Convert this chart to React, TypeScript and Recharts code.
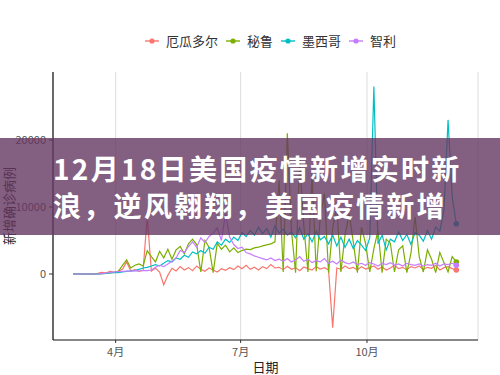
import React from 'react'
import { LineChart, Line, XAxis, YAxis, CartesianGrid } from 'recharts'

// daily new cases, sampled every 3 days starting 2020-03-01
const stepDays = 3

const ecuador = [
  0, 0, 0, 0, 10, 30, 90, 250, 180, 380, 260, 450, 700, 1800, 450, 650, 380, 560, 8600, 420,
  900, 300, -1600, -200, 850, 450, 1100, 600, 950, 500, 1200, 700, 400, 900, 600, 300, 800, 550, 950, 650,
  1200, 800, 1300, 700, 1000, 600, 1100, 800, 1400, 900, 1000, 650, 1150, 700, 950, 500, 1050, 800, 600, 1100,
  750, 950, 600, -8000, 900, 700, 1200, 800, 1000, 600, 1100, 750, 950, 1200, 700, 1050, 600, 900, 1300, 800,
  1000, 650, 1100, 900, 1200, 700, 1000, 850, 1300, 600, 950, 1100, 800, 600,
]

const peru = [
  0, 0, 0, 0, 0, 0, 30, 60, 90, 150, 250, 400, 1300, 2100, 900, 1300, 1500, 1200, 3500, 2600,
  1800, 3400, 2400, 3700, 2200, 3600, 4100, 3000, 4500, 5200, 4400, 300, 5000, 4000, 200, 4600, 3700, 4300, 3300, 3900,
  3200, 3500, 3700, 3650, 3900, 4000, 4200, 4350, 4500, 4800, 14000, 300, 21000, 6500, 200, 17000, 7200, 300, 15000, 400,
  8500, 12000, 200, 6800, 10000, 300, 5800, 9000, 4800, 200, 7000, 4500, 300, 3800, 6500, 200, 5200, 4600, 300, 3600,
  4200, 200, 3100, 8500, 2600, 300, 3600, 2200, 200, 3200, 1700, 300, 2600, 1800,
]

const mexico = [
  0, 0, 0, 0, 0, 0, 0, 50, 80, 150, 250, 200, 300, 400, 450, 500, 700, 900, 1000, 1200,
  1400, 1200, 1600, 2000, 1800, 2400, 2200, 2800, 2500, 3300, 3000, 3500, 3100, 4000, 3700, 4800, 4300, 5200, 4700, 5500,
  5000, 6200, 5600, 6500, 5800, 7000, 6000, 6800, 5500, 7200, 6100, 6700, 5800, 6300, 5400, 6900, 5200, 6000, 4800, 6400,
  5100, 5600, 4500, 5800, 4200, 5500, 4000, 5200, 3800, 5000, 4300, 3500, 5400, 28000, 4500, 5800, 3600, 5200, 4800, 6300,
  5000, 5900, 4400, 6200, 5800, 4900, 6500, 5200, 7000, 6400, 9500, 23000, 11500, 7500,
]

const chile = [
  0, 0, 0, 0, 0, 0, 0, 60, 150, 250, 300, 350, 400, 450, 430, 500, 450, 520, 500, 600,
  1000, 1300, 1100, 1500, 1900, 2400, 3500, 3200, 4100, 4800, 4000, 5400, 4700, 5600, 6100, 6900, 5000, 9000, 5500, 4400,
  3800, 4000, 3200, 3000, 2700, 2500, 2300, 2100, 2400, 2000, 2200, 1900, 2300, 1800, 2100, 2600, 1900, 2200, 1700, 2000,
  1800, 2300, 1600, 1900, 1500, 2100, 1700, 1500, 1800, 1400, 1600, 1300, 1700, 1500, 1200, 1600, 1400, 1700, 1300, 1500,
  1200, 1600, 1400, 1300, 1500, 1200, 1400, 1300, 1600, 1200, 1500, 1400, 1600, 1300,
]

const countries = ['厄瓜多尔', '秘鲁', '墨西哥', '智利']
const colors = ['#F8766D', '#7CAE00', '#00BFC4', '#C77CFF']
const seriesKeys = ['ecuador', 'peru', 'mexico', 'chile']

// day offsets from 2020-03-01
const monthTicks = [31, 122, 214]
const monthLabels = ['4月', '7月', '10月']
const yTicks = [0, 10000, 20000]

const titleLines = ['12月18日美国疫情新增实时新', '浪，逆风翱翔，美国疫情新增']

const chartData = ecuador.map((_, i) => ({
  day: i * stepDays,
  ecuador: ecuador[i],
  peru: peru[i],
  mexico: mexico[i],
  chile: chile[i],
}))

const lastIndex = chartData.length - 1
const font = '"Noto Sans CJK SC", "Noto Sans", sans-serif'

const LegendIcon = ({ color }: { color: string }) => (
  <svg width={14} height={10} style={{ marginRight: 7 }}>
    <line x1={0} y1={5} x2={14} y2={5} stroke={color} strokeWidth={1.4} />
    <circle cx={7} cy={5} r={2.6} fill={color} />
  </svg>
)

const App: React.FC = () => {
  return (
    <div
      style={{
        position: 'absolute',
        left: 0,
        top: 0,
        width: 500,
        height: 375,
        background: '#fff',
        fontFamily: font,
        overflow: 'hidden',
      }}
    >
      <LineChart
        width={500}
        height={375}
        data={chartData}
        margin={{ top: 72, right: 22, bottom: 0, left: 0 }}
      >
        <CartesianGrid horizontal={false} stroke="#dcdcdc" strokeWidth={1} />
        <XAxis
          dataKey="day"
          type="number"
          domain={[-14.6, 294.8]}
          ticks={monthTicks}
          tickFormatter={(v: number) => monthLabels[monthTicks.indexOf(v)]}
          height={35}
          tickSize={3}
          tickMargin={5}
          axisLine={{ stroke: '#111', strokeWidth: 1.2 }}
          tickLine={{ stroke: '#333' }}
          tick={{ fontSize: 11, fill: '#555', fontFamily: font }}
          label={{ value: '日期', position: 'insideBottom', offset: 3, fontSize: 13, fill: '#222', fontFamily: font }}
        />
        <YAxis
          type="number"
          domain={[-9850, 30150]}
          ticks={yTicks}
          width={53}
          tickSize={4}
          tickMargin={3}
          axisLine={{ stroke: '#111', strokeWidth: 1.2 }}
          tickLine={{ stroke: '#333' }}
          tick={{ fontSize: 11, fill: '#555', fontFamily: font }}
          label={{
            value: '新增确诊病例',
            angle: -90,
            position: 'insideLeft',
            offset: 9,
            style: { textAnchor: 'middle', fontSize: 13, fill: '#222', fontFamily: font },
          }}
        />
        {seriesKeys.map((key, s) => (
          <Line
            key={key}
            dataKey={key}
            name={countries[s]}
            type="linear"
            stroke={colors[s]}
            strokeWidth={1.2}
            isAnimationActive={false}
            activeDot={false}
            dot={(props: any) =>
              props.index === lastIndex ? (
                <circle key={`${key}-end`} cx={props.cx} cy={props.cy} r={2.8} fill={colors[s]} />
              ) : (
                <g key={`${key}-${props.index}`} />
              )
            }
          />
        ))}
      </LineChart>

      <div
        style={{
          position: 'absolute',
          top: 31,
          left: 58,
          width: 425,
          display: 'flex',
          justifyContent: 'center',
          alignItems: 'center',
          fontSize: 13,
          color: '#333',
        }}
      >
        {countries.map((c, i) => (
          <div key={c} style={{ display: 'flex', alignItems: 'center', marginRight: i < countries.length - 1 ? 8 : 0 }}>
            <LegendIcon color={colors[i]} />
            <span>{c}</span>
          </div>
        ))}
      </div>

      <div
        style={{
          position: 'absolute',
          top: 138,
          left: 0,
          width: 500,
          height: 97,
          background: 'rgba(100, 55, 98, 0.8)',
          boxSizing: 'border-box',
          paddingTop: 12,
          paddingLeft: 53,
          color: '#fff',
          fontWeight: 700,
          fontSize: 28,
          lineHeight: '37px',
          letterSpacing: 2.3,
          whiteSpace: 'nowrap',
        }}
      >
        {titleLines.map((t) => (
          <div key={t}>{t}</div>
        ))}
      </div>
    </div>
  )
}

export default App
